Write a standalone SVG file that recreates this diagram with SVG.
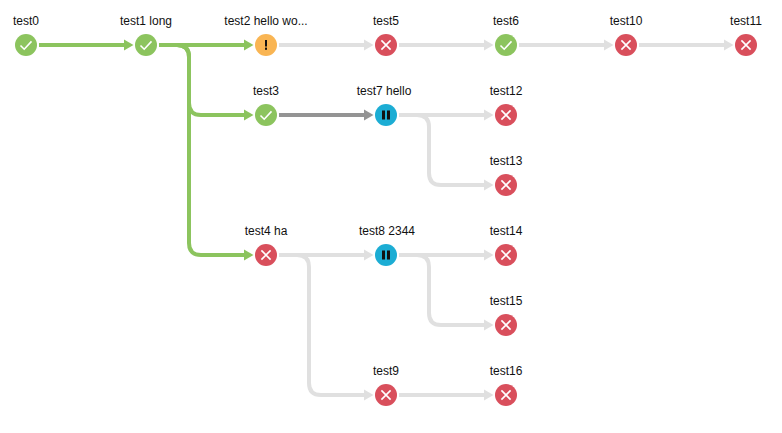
<svg xmlns="http://www.w3.org/2000/svg" width="782" height="433" viewBox="0 0 782 433">
  <style>
    text { font-family: "Liberation Sans", Arial, sans-serif; font-size: 12px; fill: #111; text-anchor: middle; }
    .edge { fill: none; stroke-width: 4; }
    .green { stroke: #8cc45e; }
    .grey { stroke: #e0e0e0; }
    .dark { stroke: #949494; }
    .ok { fill: #8cc45e; }
    .fail { fill: #d94f5c; }
    .warn { fill: #f9b553; }
    .pause { fill: #1cadd4; }
    .glyph { fill: none; stroke: #fff; stroke-width: 1.6; }
    .bar { fill: #111; }
  </style>
  <defs>
    <marker id="ah-green" markerUnits="userSpaceOnUse" markerWidth="10" markerHeight="12" refX="0" refY="6" orient="auto"><path d="M0 0.5L9.5 6L0 11.5Z" fill="#8cc45e"/></marker>
    <marker id="ah-grey" markerUnits="userSpaceOnUse" markerWidth="10" markerHeight="12" refX="0" refY="6" orient="auto"><path d="M0 0.5L9.5 6L0 11.5Z" fill="#e0e0e0"/></marker>
    <marker id="ah-dark" markerUnits="userSpaceOnUse" markerWidth="10" markerHeight="12" refX="0" refY="6" orient="auto"><path d="M0 0.5L9.5 6L0 11.5Z" fill="#949494"/></marker>
    <g id="i-ok"><circle r="11" class="ok"/><path class="glyph" d="M-5.5 0.5L-1.8 4.2L5.5 -3.6"/></g>
    <g id="i-fail"><circle r="11" class="fail"/><path class="glyph" d="M-4.6 -4.6L4.6 4.6M-4.6 4.6L4.6 -4.6"/></g>
    <g id="i-pause"><circle r="11" class="pause"/><rect class="bar" x="-4" y="-4.5" width="3" height="9"/><rect class="bar" x="1" y="-4.5" width="3" height="9"/></g>
    <g id="i-warn"><circle r="11" class="warn"/><rect class="bar" x="-1" y="-5" width="2" height="6.5"/><rect class="bar" x="-1" y="2.6" width="2" height="2.2"/></g>
  </defs>

  <g id="connectors">
    <path class="edge grey" marker-end="url(#ah-grey)" d="M279 45H364"/>
    <path class="edge grey" marker-end="url(#ah-grey)" d="M399 45H484"/>
    <path class="edge grey" marker-end="url(#ah-grey)" d="M519 45H604"/>
    <path class="edge grey" marker-end="url(#ah-grey)" d="M639 45H724"/>
    <path class="edge grey" marker-end="url(#ah-grey)" d="M399 115H484"/>
    <path class="edge grey" marker-end="url(#ah-grey)" d="M399 115H417Q429 115 429 127V173Q429 185 441 185H484"/>
    <path class="edge grey" marker-end="url(#ah-grey)" d="M279 255H364"/>
    <path class="edge grey" marker-end="url(#ah-grey)" d="M399 255H484"/>
    <path class="edge grey" marker-end="url(#ah-grey)" d="M399 255H417Q429 255 429 267V313Q429 325 441 325H484"/>
    <path class="edge grey" marker-end="url(#ah-grey)" d="M279 255H297Q309 255 309 267V383Q309 395 321 395H364"/>
    <path class="edge grey" marker-end="url(#ah-grey)" d="M399 395H484"/>
    <path class="edge dark" marker-end="url(#ah-dark)" d="M279 115H364"/>
    <path class="edge green" marker-end="url(#ah-green)" d="M39 45H124"/>
    <path class="edge green" marker-end="url(#ah-green)" d="M159 45H244"/>
    <path class="edge green" marker-end="url(#ah-green)" d="M159 45H177Q189 45 189 57V103Q189 115 201 115H244"/>
    <path class="edge green" marker-end="url(#ah-green)" d="M159 45H177Q189 45 189 57V243Q189 255 201 255H244"/>
  </g>

  <g id="test0"><use href="#i-ok" x="26" y="45"/><text x="26" y="25">test0</text></g>
  <g id="test1"><use href="#i-ok" x="146" y="45"/><text x="146" y="25">test1 long</text></g>
  <g id="test2"><use href="#i-warn" x="266" y="45"/><text x="266" y="25">test2 hello wo...</text></g>
  <g id="test5"><use href="#i-fail" x="386" y="45"/><text x="386" y="25">test5</text></g>
  <g id="test6"><use href="#i-ok" x="506" y="45"/><text x="506" y="25">test6</text></g>
  <g id="test10"><use href="#i-fail" x="626" y="45"/><text x="626" y="25">test10</text></g>
  <g id="test11"><use href="#i-fail" x="746" y="45"/><text x="746" y="25">test11</text></g>
  <g id="test3"><use href="#i-ok" x="266" y="115"/><text x="266" y="95">test3</text></g>
  <g id="test7"><use href="#i-pause" x="386" y="115"/><text x="384" y="95">test7 hello</text></g>
  <g id="test12"><use href="#i-fail" x="506" y="115"/><text x="506" y="95">test12</text></g>
  <g id="test13"><use href="#i-fail" x="506" y="185"/><text x="506" y="165">test13</text></g>
  <g id="test4"><use href="#i-fail" x="266" y="255"/><text x="266" y="235">test4 ha</text></g>
  <g id="test8"><use href="#i-pause" x="386" y="255"/><text x="387" y="235">test8 2344</text></g>
  <g id="test14"><use href="#i-fail" x="506" y="255"/><text x="506" y="235">test14</text></g>
  <g id="test15"><use href="#i-fail" x="506" y="325"/><text x="506" y="305">test15</text></g>
  <g id="test9"><use href="#i-fail" x="386" y="395"/><text x="386" y="375">test9</text></g>
  <g id="test16"><use href="#i-fail" x="506" y="395"/><text x="506" y="375">test16</text></g>
</svg>
